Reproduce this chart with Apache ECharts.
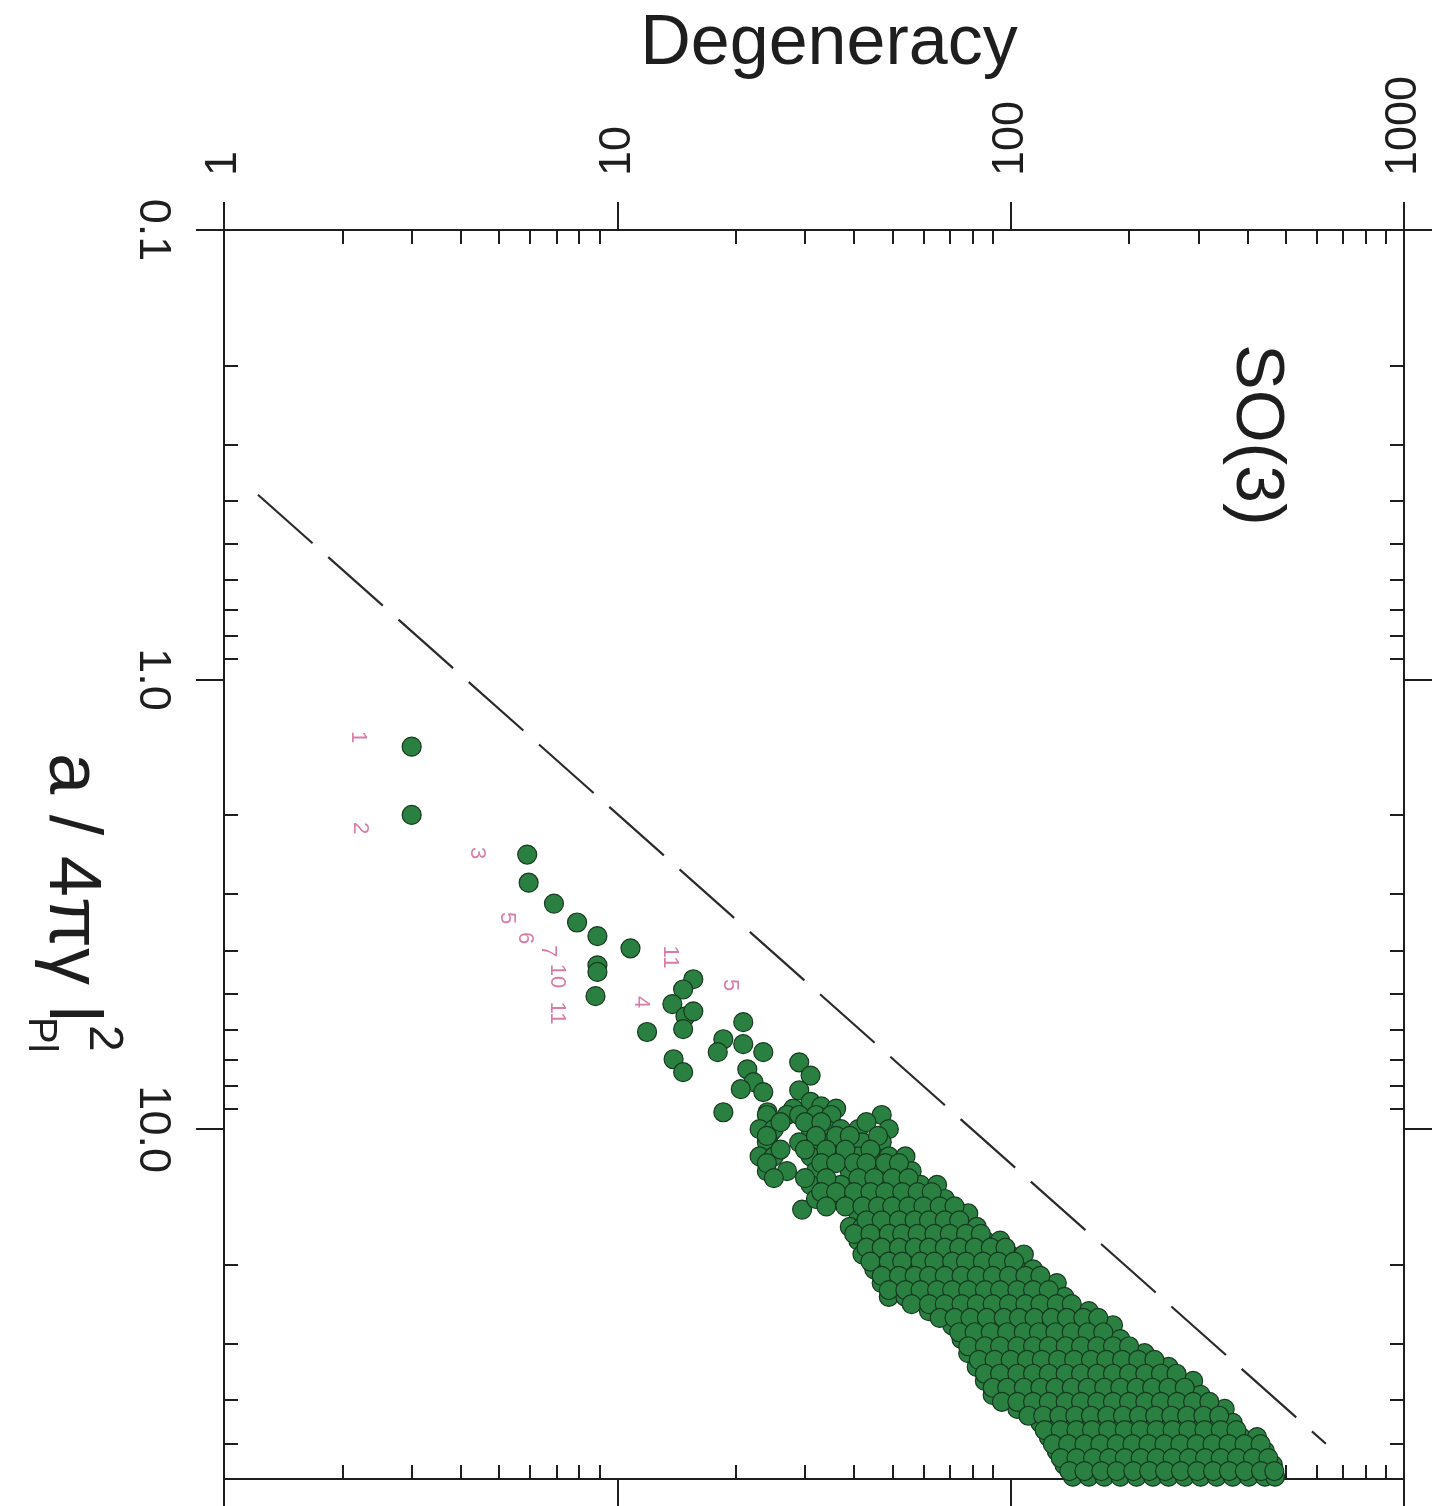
<!DOCTYPE html>
<html><head><meta charset="utf-8">
<script src="https://cdn.jsdelivr.net/npm/echarts@6/dist/echarts.min.js"></script>
<style>html,body{margin:0;padding:0;background:#fff}#c{width:1448px;height:1506px}</style>
</head><body><div id="c"></div>
<script>
// ---- axes ----
const degTicks = [1, 10, 100, 1000];
const degLabels = ['1', '10', '100', '1000'];
const degMinor = [2,3,4,5,6,7,8,9,20,30,40,50,60,70,80,90,200,300,400,500,600,700,800,900];
const aTicks = [0.1, 1, 10];
const aLabels = ['0.1', '1.0', '10.0'];
const aMinor = [0.2,0.3,0.4,0.5,0.6,0.7,0.8,0.9,2,3,4,5,6,7,8,9,20,30,40,50];

// ---- isolated states (degeneracy, a/4πγl²) ----
const sparseDeg = [3, 3, 5.9, 5.95, 6.9, 7.9, 8.9, 10.8, 8.9, 8.9, 8.8, 15.6, 14.7, 13.8, 14.9, 15.6, 14.7, 11.9,
  20.9, 18.6, 20.9, 18.0, 23.5, 13.9, 14.7, 21.4, 22.2, 20.6, 23.5, 18.6, 24.1, 24.5, 29, 31, 29, 31, 28, 33, 36, 29.5];
const sparseA = [1.41, 2.0, 2.45, 2.83, 3.15, 3.47, 3.72, 3.96, 4.32, 4.47, 5.06, 4.64, 4.89, 5.27, 5.61, 5.47, 5.99, 6.08,
  5.78, 6.31, 6.47, 6.74, 6.74, 6.99, 7.47, 7.36, 7.86, 8.15, 8.27, 9.17, 9.17, 10.2, 7.1, 7.6, 8.2, 8.7, 9.0, 8.9, 9.0, 15.1];

// ---- dense band, read row by row (a value per row, degeneracies in that row) ----
const rowA = [9.3, 10.0, 10.7, 11.5, 12.4, 13.3, 14.3, 15.4, 16.5, 17.7, 19.0, 20.5, 22.0, 23.6, 25.4, 27.3,
  29.3, 31.5, 33.8, 36.3, 39.0, 41.9, 45.0, 48.4, 52.0, 55.8, 59.3];
const rowDeg = [
  [24, 27, 29, 32, 35, 47],
  [23, 25, 31, 34, 37, 41, 49],
  [24, 29, 32, 35, 39, 42, 47],
  [23, 25, 31, 34, 37, 41, 45, 49, 54],
  [24, 27, 32, 39, 42, 47, 51, 56],
  [31, 34, 37, 41, 45, 49, 54, 59, 65],
  [32, 35, 39, 42, 47, 51, 56, 62, 68],
  [41, 45, 49, 54, 59, 65, 71, 78],
  [39, 42, 47, 51, 56, 62, 68, 75, 82],
  [41, 45, 49, 54, 59, 65, 71, 78, 86, 94],
  [42, 47, 51, 56, 62, 68, 75, 82, 90, 99, 108],
  [45, 49, 54, 59, 65, 71, 78, 86, 94, 104, 114],
  [47, 51, 56, 62, 68, 75, 82, 90, 99, 108, 119, 131],
  [49, 54, 59, 65, 71, 78, 86, 94, 104, 114, 125, 137],
  [62, 68, 75, 82, 90, 99, 108, 119, 131, 144, 158],
  [71, 78, 86, 94, 104, 114, 125, 137, 151, 166, 182],
  [75, 82, 90, 99, 108, 119, 131, 144, 158, 173, 190],
  [78, 86, 94, 104, 114, 125, 137, 151, 166, 182, 200, 219],
  [82, 90, 99, 108, 119, 131, 144, 158, 173, 190, 209, 230, 252],
  [86, 94, 104, 114, 125, 137, 151, 166, 182, 200, 219, 241, 265, 291],
  [90, 99, 108, 119, 131, 144, 158, 173, 190, 209, 230, 252, 277, 304],
  [104, 114, 125, 137, 151, 166, 182, 200, 219, 241, 265, 291, 319, 350],
  [119, 131, 144, 158, 173, 190, 209, 230, 252, 277, 304, 334, 367],
  [125, 137, 151, 166, 182, 200, 219, 241, 265, 291, 319, 350, 385, 423],
  [131, 144, 158, 173, 190, 209, 230, 252, 277, 304, 334, 367, 403, 443],
  [137, 151, 166, 182, 200, 219, 241, 265, 291, 319, 350, 385, 423, 464],
  [144, 158, 173, 190, 209, 230, 252, 277, 304, 334, 367, 403, 443, 470]
];

// ---- in-between states of the dense band (a value per row, degeneracies) ----
const midA = [9.65, 10.35, 11.1, 11.9, 12.85, 13.8, 14.85, 15.95, 17.1, 18.35, 19.7, 21.2, 22.8, 24.5, 26.3, 28.3,
  30.4, 32.6, 35.0, 37.6, 40.4, 43.4, 46.7, 50.2, 53.9, 57.6];
const midDeg = [
  [26, 30, 33, 43],
  [24, 32, 36, 39, 46],
  [26, 30, 34, 38, 44],
  [24, 33, 36, 40, 43, 48, 52],
  [25, 30, 34, 41, 45, 50, 55],
  [33, 36, 40, 44, 48, 53, 58, 63],
  [34, 38, 42, 46, 50, 55, 60, 66, 72],
  [43, 47, 52, 57, 62, 68, 74],
  [40, 44, 49, 53, 58, 64, 70, 77, 84],
  [43, 47, 52, 57, 62, 68, 74, 81, 89, 97],
  [44, 49, 53, 59, 64, 71, 77, 85, 93, 102],
  [47, 52, 57, 62, 68, 75, 82, 90, 99, 109, 119],
  [49, 54, 59, 65, 71, 78, 86, 94, 104, 114, 125],
  [56, 62, 68, 75, 82, 90, 99, 109, 119, 131, 143],
  [66, 72, 79, 87, 96, 105, 115, 127, 139, 153, 167],
  [74, 81, 89, 98, 108, 118, 130, 143, 157, 172],
  [78, 86, 94, 104, 114, 125, 138, 151, 166, 182, 200],
  [83, 91, 100, 110, 120, 132, 145, 160, 175, 192, 211, 232],
  [86, 94, 104, 114, 125, 138, 151, 166, 182, 200, 220, 241, 264],
  [90, 98, 108, 119, 130, 143, 157, 173, 190, 209, 229, 252, 277],
  [95, 104, 114, 125, 138, 151, 166, 182, 200, 220, 241, 265, 291, 320],
  [111, 121, 133, 146, 160, 176, 193, 212, 233, 256, 281, 309, 339],
  [122, 134, 147, 161, 177, 195, 214, 235, 258, 283, 311, 342, 375],
  [128, 140, 154, 169, 186, 204, 224, 246, 270, 297, 326, 358, 393, 432],
  [134, 147, 162, 178, 195, 214, 235, 258, 284, 312, 342, 376, 413, 452],
  [141, 154, 170, 186, 205, 225, 247, 271, 298, 327, 359, 394, 433, 468]
];

// ---- dashed bound ----
const boundDeg = [1.22, 633];
const boundA = [0.388, 50.1];

// ---- build ----
const points = [];
sparseDeg.forEach((d, i) => points.push([d, sparseA[i]]));
rowDeg.forEach((row, r) => row.forEach(d => points.push([d, rowA[r]])));
midDeg.forEach((row, r) => row.forEach(d => points.push([d, midA[r]])));
const boundLine = boundDeg.map((d, i) => [d, boundA[i]]);

function pick(ticks, labels) {
  return v => {
    for (let i = 0; i < ticks.length; i++) {
      if (Math.abs(Math.log10(v) - Math.log10(ticks[i])) < 1e-6) return labels[i];
    }
    return '';
  };
}

const INK = '#1e1e1e';
const FONT = "'Liberation Sans', Arial, sans-serif";

function axis(kind, pos, major, showLine, label) {
  const isX = kind === 'x';
  const o = {
    type: 'log', logBase: 10, position: pos,
    min: isX ? 1 : 0.1, max: isX ? 1000 : 60,
    inverse: !isX,
    splitLine: { show: false }, minorTick: { show: false }, minorSplitLine: { show: false },
    axisLine: { show: showLine, onZero: false, lineStyle: { color: INK, width: 2 } },
    axisTick: {
      show: true, inside: !major, length: major ? 28 : 14,
      customValues: major ? (isX ? degTicks : aTicks) : (isX ? degMinor : aMinor),
      lineStyle: { color: INK, width: 2 }
    },
    axisLabel: { show: false },
    axisPointer: { show: false }
  };
  if (label) {
    o.axisLabel = {
      show: true, rotate: -90, customValues: isX ? degTicks : aTicks,
      margin: isX ? 54 : 49,
      formatter: isX ? pick(degTicks, degLabels) : pick(aTicks, aLabels),
      fontSize: 45, fontFamily: FONT, color: INK
    };
  }
  return o;
}

const xTop = axis('x', 'top', true, true, true);
xTop.name = 'Degeneracy';
xTop.nameLocation = 'middle';
xTop.nameGap = 150;
xTop.nameMoveOverlap = false;
xTop.nameTextStyle = { fontSize: 70, fontFamily: FONT, color: INK, padding: [0, 0, 0, 30] };

const notes = [
  ['1', 358, 737], ['2', 360, 828], ['3', 477, 853], ['5', 507, 918], ['6', 525, 938],
  ['7', 548, 951], ['10', 557, 976], ['11', 557, 1013], ['11', 670, 957], ['4', 641, 1002], ['5', 730, 985]
];

const option = {
  animation: false,
  backgroundColor: '#ffffff',
  grid: { left: 224, top: 230, width: 1180, height: 1249, containLabel: false, outerBoundsMode: 'none' },
  xAxis: [
    xTop,
    axis('x', 'top', false, false, false),
    axis('x', 'bottom', true, true, false),
    axis('x', 'bottom', false, false, false)
  ],
  yAxis: [
    axis('y', 'left', true, true, true),
    axis('y', 'left', false, false, false),
    axis('y', 'right', true, true, false),
    axis('y', 'right', false, false, false)
  ],
  series: [
    {
      type: 'line', xAxisIndex: 0, yAxisIndex: 0, data: boundLine,
      symbol: 'none', silent: true, z: 1,
      lineStyle: { color: '#2a2a2a', width: 2.2, type: [73, 21] }
    },
    {
      type: 'scatter', xAxisIndex: 0, yAxisIndex: 0, data: points,
      symbol: 'circle', symbolSize: 19, clip: true, z: 2,
      itemStyle: { color: '#2a8041', borderColor: '#17391f', borderWidth: 1.2, opacity: 1 }
    }
  ],
  graphic: [
    {
      type: 'text', x: 1256, y: 435, rotation: -Math.PI / 2,
      style: { text: 'SO(3)', font: "68px 'Liberation Sans', Arial, sans-serif", fill: INK, align: 'center', verticalAlign: 'middle' }
    },
    {
      type: 'group', x: 70, y: 753, rotation: -Math.PI / 2,
      children: [
        { type: 'text', x: 0, y: 0, style: { text: 'a / 4πγ l', font: "74px 'Liberation Sans', Arial, sans-serif", fill: INK, align: 'left', verticalAlign: 'middle' } },
        { type: 'text', x: 264, y: 30, style: { text: 'Pl', font: "40px 'Liberation Sans', Arial, sans-serif", fill: INK, align: 'left', verticalAlign: 'middle' } },
        { type: 'text', x: 272, y: -33, style: { text: '2', font: "48px 'Liberation Sans', Arial, sans-serif", fill: INK, align: 'left', verticalAlign: 'middle' } }
      ]
    }
  ].concat(notes.map(n => ({
    type: 'text', x: n[1], y: n[2], rotation: -Math.PI / 2,
    style: { text: n[0], font: "22px 'Liberation Sans', Arial, sans-serif", fill: 'rgba(205,80,140,0.75)', align: 'center', verticalAlign: 'middle' }
  })))
};

const chart = echarts.init(document.getElementById('c'), null, { renderer: 'canvas', width: 1448, height: 1506 });
chart.setOption(option);
</script>
</body></html>
